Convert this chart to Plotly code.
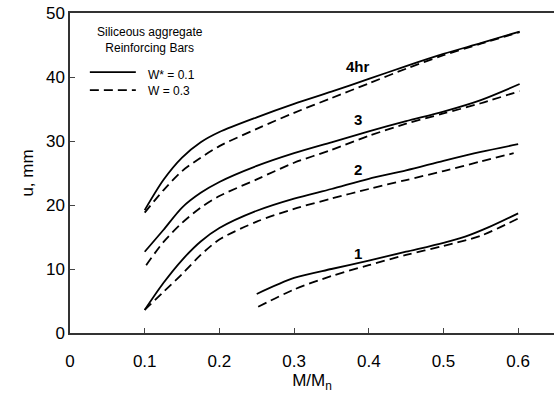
import plotly.graph_objects as go

# 4 hr
x4s = [0.100, 0.125, 0.150, 0.175, 0.200, 0.250, 0.300, 0.350, 0.400, 0.450, 0.500, 0.550, 0.602]
y4s = [19.2, 23.9, 27.4, 29.8, 31.4, 33.7, 35.8, 37.7, 39.7, 41.7, 43.6, 45.3, 47.1]
x4d = [0.100, 0.125, 0.150, 0.175, 0.200, 0.250, 0.300, 0.350, 0.400, 0.450, 0.500, 0.550, 0.602]
y4d = [18.8, 22.3, 25.3, 27.4, 29.2, 31.9, 34.4, 36.7, 39.0, 41.3, 43.4, 45.2, 47.0]
# 3 hr
x3s = [0.100, 0.125, 0.150, 0.175, 0.200, 0.250, 0.300, 0.350, 0.400, 0.450, 0.500, 0.550, 0.602]
y3s = [12.7, 16.1, 19.6, 21.9, 23.6, 26.1, 28.1, 29.8, 31.5, 33.1, 34.6, 36.4, 38.9]
x3d = [0.102, 0.125, 0.150, 0.175, 0.200, 0.250, 0.300, 0.350, 0.400, 0.450, 0.500, 0.550, 0.602]
y3d = [10.6, 14.2, 17.2, 19.6, 21.4, 24.0, 26.6, 28.6, 30.8, 32.7, 34.3, 35.9, 37.8]
# 2 hr
x2s = [0.100, 0.125, 0.150, 0.175, 0.200, 0.250, 0.300, 0.350, 0.400, 0.450, 0.500, 0.550, 0.600]
y2s = [3.6, 7.8, 11.4, 14.3, 16.4, 19.1, 21.0, 22.5, 24.1, 25.4, 26.9, 28.3, 29.5]
x2d = [0.100, 0.125, 0.150, 0.175, 0.200, 0.250, 0.300, 0.350, 0.400, 0.450, 0.500, 0.550, 0.594]
y2d = [3.6, 6.4, 9.2, 12.2, 14.6, 17.4, 19.4, 21.0, 22.5, 23.9, 25.3, 26.8, 28.1]
# 1 hr
x1s = [0.250, 0.300, 0.350, 0.400, 0.450, 0.500, 0.530, 0.560, 0.600]
y1s = [6.1, 8.6, 10.0, 11.3, 12.7, 14.1, 15.1, 16.5, 18.7]
x1d = [0.252, 0.300, 0.350, 0.400, 0.450, 0.500, 0.550, 0.602]
y1d = [4.1, 6.8, 8.9, 10.6, 12.2, 13.6, 15.2, 18.0]

curve_labels = ["4hr", "3", "2", "1"]
label_x = [0.386, 0.386, 0.386, 0.386]
label_y = [41.7, 33.3, 25.5, 12.5]

xticks = [0, 0.1, 0.2, 0.3, 0.4, 0.5, 0.6]
xticktext = ["0", "0.1", "0.2", "0.3", "0.4", "0.5", "0.6"]
yticks = [0, 10, 20, 30, 40, 50]

FONT = "Liberation Sans"
fig = go.Figure()
pairs = [(x4s, y4s, x4d, y4d), (x3s, y3s, x3d, y3d), (x2s, y2s, x2d, y2d), (x1s, y1s, x1d, y1d)]
for xs, ys, xd, yd in pairs:
    fig.add_trace(go.Scatter(x=xs, y=ys, mode="lines", showlegend=False,
                             line=dict(color="black", width=1.8, shape="spline", smoothing=0.8)))
    fig.add_trace(go.Scatter(x=xd, y=yd, mode="lines", showlegend=False,
                             line=dict(color="black", width=1.8, shape="spline", smoothing=0.8, dash="9px,5px")))

for t, lx, ly in zip(curve_labels, label_x, label_y):
    fig.add_annotation(x=lx, y=ly, text="<b>" + t + "</b>", showarrow=False,
                       font=dict(size=15, color="black", family=FONT))

fig.add_annotation(x=0.165, y=0.917, xref="paper", yref="paper", text="Siliceous aggregate<br>Reinforcing Bars",
                   showarrow=False, align="center", xanchor="center", yanchor="middle",
                   font=dict(size=12, color="black", family=FONT))
fig.add_shape(type="line", xref="paper", yref="paper", x0=0.041, x1=0.136, y0=0.815, y1=0.815,
              line=dict(color="black", width=1.8))
fig.add_shape(type="line", xref="paper", yref="paper", x0=0.041, x1=0.136, y0=0.759, y1=0.759,
              line=dict(color="black", width=1.8, dash="9px,5px"))
fig.add_annotation(x=0.157, y=0.805, xref="paper", yref="paper", text="W* = 0.1", showarrow=False,
                   xanchor="left", yanchor="middle", font=dict(size=12, color="black", family=FONT))
fig.add_annotation(x=0.157, y=0.755, xref="paper", yref="paper", text="W = 0.3", showarrow=False,
                   xanchor="left", yanchor="middle", font=dict(size=12, color="black", family=FONT))

fig.update_layout(
    width=554, height=396,
    margin=dict(l=70, r=0, t=13, b=63),
    paper_bgcolor="white", plot_bgcolor="white",
    font=dict(family=FONT, size=17, color="black"),
    xaxis=dict(range=[0, 0.648], tickvals=xticks, ticktext=xticktext, ticks="inside", ticklen=5,
               ticklabelstandoff=12,
               showline=True, mirror=True, linecolor="#333", linewidth=1.5, showgrid=False, zeroline=False,
               title=dict(text="M/M<sub>n</sub>", font=dict(size=17), standoff=0)),
    yaxis=dict(range=[0, 50], tickvals=yticks, ticks="inside", ticklen=5,
               showline=True, mirror=False, linecolor="#333", linewidth=1.5, showgrid=False, zeroline=False,
               title=dict(text="u, mm", font=dict(size=17), standoff=8)),
)
fig.write_html("out.html")
